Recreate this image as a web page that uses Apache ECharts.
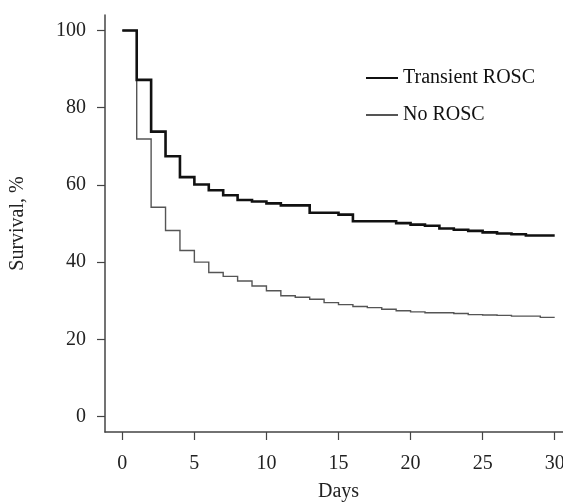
<!DOCTYPE html>
<html>
<head>
<meta charset="utf-8">
<script src="https://cdn.jsdelivr.net/npm/echarts@6/dist/echarts.min.js"></script>
<style>
  html, body { margin: 0; padding: 0; background: #fff; }
  #chart { width: 563px; height: 502px; }
</style>
</head>
<body>
<div id="chart"></div>
<script>
// days since arrest, survival (%) after events on that day
const days = [0, 1, 2, 3, 4, 5, 6, 7, 8, 9, 10, 11, 12, 13, 14, 15, 16, 17, 18, 19, 20, 21, 22, 23, 24, 25, 26, 27, 28, 29, 30]
const transientRosc = [100, 87.2, 73.8, 67.4, 62.0, 60.1, 58.6, 57.3, 56.1, 55.7, 55.2, 54.7, 54.7, 52.8, 52.8, 52.3, 50.6, 50.6, 50.6, 50.1, 49.7, 49.4, 48.7, 48.4, 48.1, 47.7, 47.4, 47.2, 46.9, 46.9, 46.9]
const noRosc = [100, 71.9, 54.2, 48.2, 43.0, 40.0, 37.3, 36.3, 35.1, 33.8, 32.6, 31.3, 30.9, 30.4, 29.5, 29.0, 28.5, 28.2, 27.8, 27.4, 27.1, 26.9, 26.9, 26.7, 26.4, 26.3, 26.2, 26.0, 26.0, 25.7, 25.7]
const xTicks = [0, 5, 10, 15, 20, 25, 30]
const yTicks = [0, 20, 40, 60, 80, 100]

const font = 'Liberation Serif'
const axisColor = '#444'
const pairs = (ys) => days.map((d, i) => [d, ys[i]])

// KM step curve drawn as one polyline (line series drops sub-pixel steps)
function stepCurve (name, ys, color, width) {
  return {
    name: name,
    type: 'custom',
    data: pairs(ys),
    encode: { x: 0, y: 1 },
    itemStyle: { color: color },
    renderItem (params, api) {
      if (params.dataIndex !== 0) return null
      const pts = []
      days.forEach((d, i) => {
        if (i > 0) pts.push(api.coord([d, ys[i - 1]]))
        pts.push(api.coord([d, ys[i]]))
      })
      return {
        type: 'polyline',
        shape: { points: pts },
        style: { stroke: color, lineWidth: width, fill: null, lineJoin: 'miter' }
      }
    }
  }
}

// empty line series only give the legend its line icons
function legendLine (name, color, width) {
  return {
    name: name,
    type: 'line',
    data: [],
    symbol: 'none',
    lineStyle: { color: color, width: width },
    itemStyle: { color: color }
  }
}

const chart = echarts.init(document.getElementById('chart'))
chart.setOption({
  animation: false,
  textStyle: { fontFamily: font },
  grid: { left: 105, right: -9, top: 15, bottom: 70, outerBoundsMode: 'none' },
  legend: {
    orient: 'vertical',
    left: 365,
    top: 68,
    padding: 0,
    itemWidth: 32,
    itemHeight: 20,
    itemGap: 17,
    data: ['Transient ROSC', 'No ROSC'],
    itemStyle: { opacity: 0 },
    textStyle: { fontFamily: font, fontSize: 20, color: '#111' }
  },
  xAxis: {
    type: 'value',
    min: -1.2,
    max: 31.2,
    name: 'Days',
    nameLocation: 'middle',
    nameGap: 50,
    nameTextStyle: { fontFamily: font, fontSize: 20, color: '#222' },
    axisLine: { onZero: false, lineStyle: { color: axisColor, width: 1.5 } },
    axisTick: { customValues: xTicks, length: 8, lineStyle: { color: axisColor, width: 1.2 } },
    axisLabel: { customValues: xTicks, margin: 22, fontSize: 20, color: '#222', fontFamily: font },
    splitLine: { show: false }
  },
  yAxis: {
    type: 'value',
    min: -4,
    max: 104,
    name: 'Survival, %',
    nameLocation: 'middle',
    nameGap: 77,
    nameTextStyle: { fontFamily: font, fontSize: 20, color: '#222' },
    axisLine: { show: true, onZero: false, lineStyle: { color: axisColor, width: 1.5 } },
    axisTick: { show: true, customValues: yTicks, length: 8, lineStyle: { color: axisColor, width: 1.2 } },
    axisLabel: { customValues: yTicks, margin: 19, fontSize: 20, color: '#222', fontFamily: font },
    splitLine: { show: false }
  },
  series: [
    legendLine('Transient ROSC', '#111', 2.6),
    legendLine('No ROSC', '#555', 1.4),
    stepCurve('No ROSC', noRosc, '#555', 1.4),
    stepCurve('Transient ROSC', transientRosc, '#111', 2.6)
  ]
})
</script>
</body>
</html>
